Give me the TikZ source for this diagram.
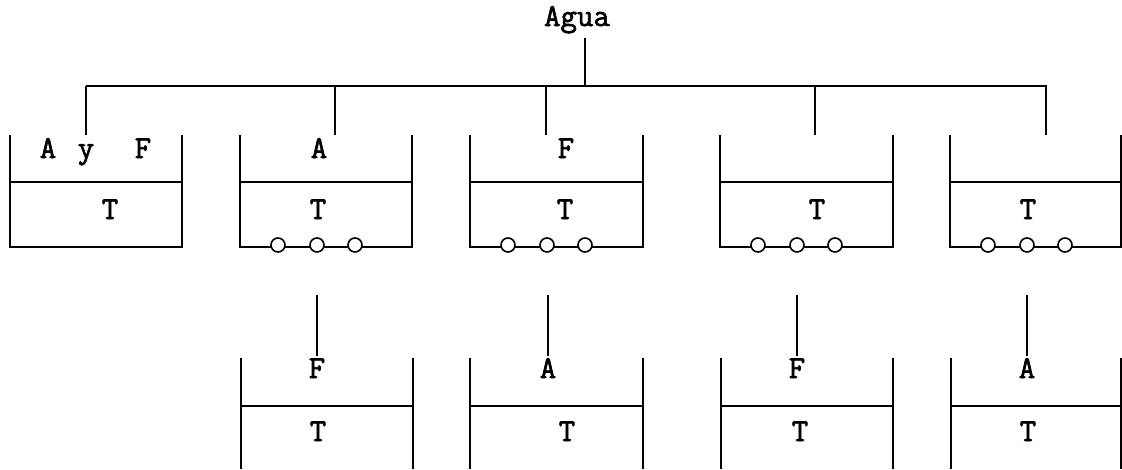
\documentclass[tikz,border=0pt]{standalone}
\usepackage{fontspec}
\setmonofont{Latin Modern Mono}[AutoFakeBold=2]
\begin{document}
\begin{tikzpicture}[x=1pt,y=-1pt,
  wall/.style={line width=1.7pt},
  lbl/.style={font=\ttfamily\bfseries\fontsize{32}{34}\selectfont, anchor=base, inner sep=0pt},
  wheel/.style={line width=1.6pt, fill=white}]
\useasboundingbox (0,0) rectangle (1122,469);
% title
\node[lbl] (agua) at (577,26) {Agua};
\coordinate (aguabot) at (585,38);
\coordinate (busjoin) at (585,86);
\draw[wall] (aguabot) -- (busjoin);
\coordinate (busL) at (86,86);
\coordinate (busR) at (1047,86);
\draw[wall] (busL) -- (busR);
% row 1 tanks
% tank 1
\draw[wall] (10,135) -- (10,247) -- (182,247) -- (182,135);
\draw[wall] (10,182) -- (182,182);
\node[lbl] (t1a) at (48,158) {A};
\node[lbl] (t1y) at (86,158) {y};
\node[lbl] (t1f) at (143,158) {F};
\node[lbl] (t1t) at (110,219) {T};
\coordinate (t1top) at (86,135);
% tanks 2-5 with wheels
\foreach \xl/\xr/\nm in {240/412/t2, 470/643/t3, 720/893/t4, 950/1121/t5}{
  \draw[wall] (\xl,135) -- (\xl,247) -- (\xr,247) -- (\xr,135);
  \draw[wall] (\xl,182) -- (\xr,182);
  \foreach \dx in {38,77,115}{
    \draw[wheel] (\xl+\dx,245) circle (7);
  }
}
\node[lbl] (t2a) at (319,158) {A};
\node[lbl] (t2t) at (318,219) {T};
\node[lbl] (t3f) at (566,158) {F};
\node[lbl] (t3t) at (565,219) {T};
\node[lbl] (t4t) at (817,219) {T};
\node[lbl] (t5t) at (1028,219) {T};
\coordinate (t2top) at (335,135);
\coordinate (t3top) at (546,135);
\coordinate (t4top) at (815,135);
\coordinate (t5top) at (1046,135);
\draw[wall] (t1top) -- (t1top |- busL);
\draw[wall] (t2top) -- (t2top |- busL);
\draw[wall] (t3top) -- (t3top |- busL);
\draw[wall] (t4top) -- (t4top |- busL);
\draw[wall] (t5top) -- (t5top |- busL);
% row 2 tanks
\foreach \xl/\xr in {241/413, 470/643, 721/893, 951/1121}{
  \draw[wall] (\xl,469) -- (\xl,358);
  \draw[wall] (\xr,469) -- (\xr,358);
  \draw[wall] (\xl,406) -- (\xr,406);
}
\node[lbl] (b1f) at (317,378) {F};
\node[lbl] (b1t) at (318,441) {T};
\node[lbl] (b2a) at (548,378) {A};
\node[lbl] (b2t) at (567,441) {T};
\node[lbl] (b3f) at (797,378) {F};
\node[lbl] (b3t) at (800,441) {T};
\node[lbl] (b4a) at (1027,378) {A};
\node[lbl] (b4t) at (1028,441) {T};
\foreach \x/\n in {317/b1, 548/b2, 797/b3, 1027/b4}{
  \coordinate (\n in) at (\x,295);
  \coordinate (\n top) at (\x,356);
  \draw[wall] (\n in) -- (\n top);
}
\end{tikzpicture}
\end{document}
